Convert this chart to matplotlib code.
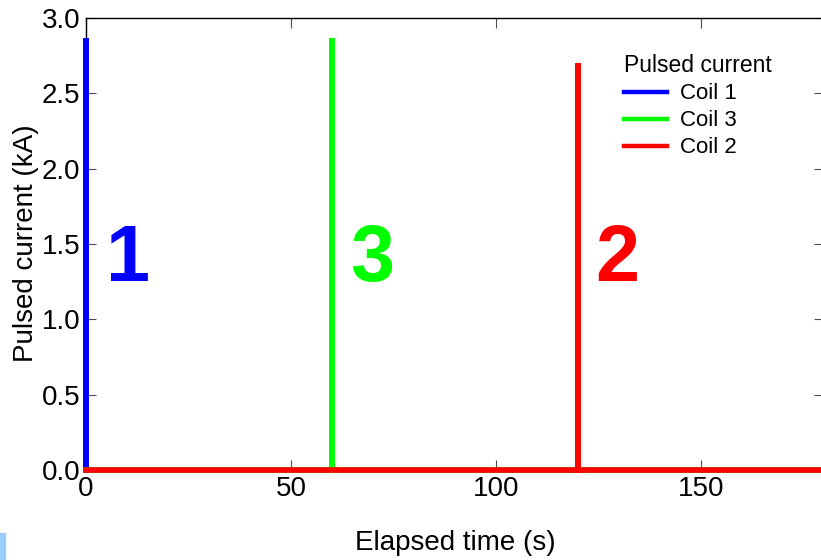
import matplotlib.pyplot as plt
from matplotlib.patches import Rectangle


plt.rcParams['font.family'] = ['Liberation Sans', 'DejaVu Sans']

# pulse traces (time in s, current in kA)
coil1_t = [0, 0, 0, 180]
coil1_i = [0, 2.87, 0, 0]
coil3_t = [0, 60, 60, 60, 180]
coil3_i = [0, 0, 2.87, 0, 0]
coil2_t = [0, 120, 120, 120, 180]
coil2_i = [0, 0, 2.70, 0, 0]

coil_names = ["Coil 1", "Coil 3", "Coil 2"]
coil_colors = [(0, 0, 1), (0, 1, 0), (1, 0, 0)]

# big coil numbers placed next to each pulse
marker_text = ["1", "3", "2"]
marker_x = [10.3, 69.8, 129.5]
marker_y = [1.45, 1.45, 1.45]


def main():
	fig = plt.figure(figsize=(8.21, 5.60), dpi=100)
	ax = fig.add_axes([0.1048, 0.1607, 0.8989, 0.8072])

	traces = [(coil1_t, coil1_i), (coil3_t, coil3_i), (coil2_t, coil2_i)]
	for (t, i), name, c in zip(traces, coil_names, coil_colors):
		ax.plot(t, i, color=c, lw=4.0, label=name, solid_joinstyle='miter', clip_on=False, zorder=3)

	for s, x, y, c in zip(marker_text, marker_x, marker_y, coil_colors):
		ax.text(x, y, s, color=c, fontsize=57, fontweight='bold', ha='center', va='center_baseline')

	ax.set_xlim(0, 180)
	ax.set_ylim(0, 3.0)
	ax.set_xticks([0, 50, 100, 150])
	ax.set_yticks([0, 0.5, 1.0, 1.5, 2.0, 2.5, 3.0])
	ax.tick_params(direction='in', length=7, width=0.8, color=(0.3, 0.3, 0.3),
		labelsize=20, pad=4, top=True, right=True)
	for sp in ax.spines.values():
		sp.set_linewidth(1.0)

	fig.text(455 / 821, 1 - 543 / 560, "Elapsed time (s)", fontsize=20, ha='center', va='center')
	fig.text(26 / 821, 1 - 243 / 560, "Pulsed current (kA)", fontsize=20, ha='center', va='center',
		rotation=90)

	leg = ax.legend(title="Pulsed current", loc='upper left', bbox_to_anchor=(0.760, 0.903),
		bbox_transform=fig.transFigure, frameon=False, fontsize=16, title_fontsize=16.5,
		borderpad=0, borderaxespad=0, labelspacing=0.27, handlelength=1.95, handletextpad=0.55,
		alignment='left')
	for h in leg.get_lines():
		h.set_linewidth(3.2)

	fig.patches.append(Rectangle((0, 0), 5 / 821, 27 / 560, transform=fig.transFigure,
		color=(0.6, 0.8, 0.98), zorder=0))

	fig.savefig("out.png", dpi=100)


if __name__ == '__main__':
	main()
